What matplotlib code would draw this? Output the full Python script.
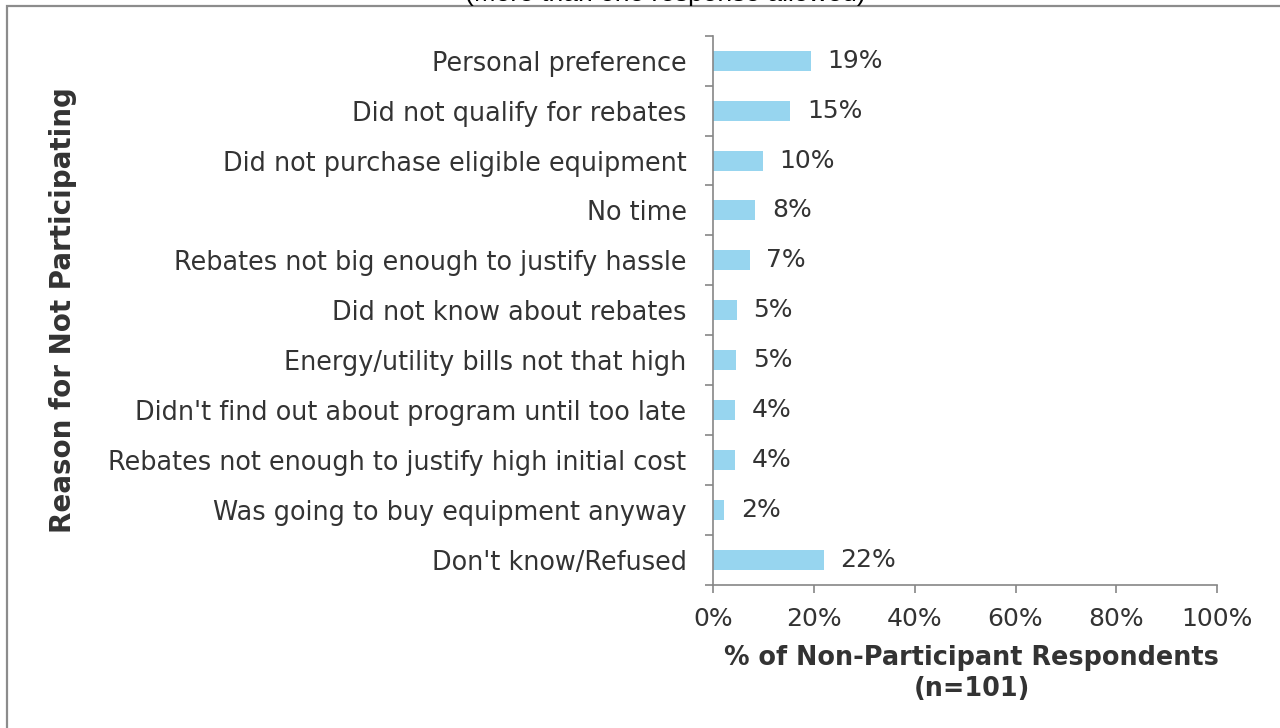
import matplotlib
matplotlib.use('Agg')
import matplotlib.pyplot as plt
from matplotlib.patches import Rectangle
from matplotlib.ticker import FixedLocator, PercentFormatter
import numpy as np

reasons = [
    'Personal preference',
    'Did not qualify for rebates',
    'Did not purchase eligible equipment',
    'No time',
    'Rebates not big enough to justify hassle',
    'Did not know about rebates',
    'Energy/utility bills not that high',
    "Didn't find out about program until too late",
    'Rebates not enough to justify high initial cost',
    'Was going to buy equipment anyway',
    "Don't know/Refused",
]
percents = [19.4, 15.3, 9.9, 8.4, 7.3, 4.7, 4.6, 4.4, 4.4, 2.2, 22.0]
x_ticks = [0, 20, 40, 60, 80, 100]

text_color = '#333333'
axis_color = '#868686'
bar_color = '#97D5EF'

plt.rcParams['font.family'] = 'DejaVu Sans'

fig = plt.figure(figsize=(12.8, 7.28), dpi=100)
ax = fig.add_axes([0.557, 0.1964, 0.394, 0.7546])

y = np.arange(len(reasons))
ax.barh(y, percents, height=0.4, color=bar_color)

for i in range(len(percents)):
    ax.annotate(f'{percents[i]:.0f}%', (percents[i], y[i]), xytext=(12, 0),
                textcoords='offset points', va='center', ha='left',
                fontsize=18, color=text_color)

ax.set_xlim(0, 100)
ax.set_ylim(len(reasons) - 0.5, -0.5)

ax.set_yticks(y)
ax.set_yticklabels(reasons)
ax.yaxis.set_minor_locator(FixedLocator(np.arange(len(reasons) + 1) - 0.5))
ax.tick_params(axis='y', which='major', length=0, pad=19, labelsize=18.4, labelcolor=text_color)
ax.tick_params(axis='y', which='minor', length=6, width=1.2, color=axis_color)

ax.set_xticks(x_ticks)
ax.xaxis.set_major_formatter(PercentFormatter(decimals=0))
ax.tick_params(axis='x', length=6, width=1.2, color=axis_color, pad=10,
               labelsize=18, labelcolor=text_color)

for side in ['top', 'right']:
    ax.spines[side].set_visible(False)
for side in ['left', 'bottom']:
    ax.spines[side].set_color(axis_color)
    ax.spines[side].set_linewidth(1.2)

ax.set_xlabel('% of Non-Participant Respondents\n(n=101)', fontsize=18.4,
              fontweight='bold', color=text_color, linespacing=1.25)
ax.xaxis.set_label_coords(0.513, -0.11)
ax.xaxis.label.set_va('top')
fig.text(63 / 1280, 0.5736, 'Reason for Not Participating', rotation=90,
         ha='center', va='center', fontsize=20, fontweight='bold', color=text_color)

# subtitle sits above the outer frame
fig.text(665 / 1280, 1 - 6.5 / 728, '(More than one response allowed)',
         ha='center', va='bottom', fontsize=19, family='Liberation Sans', color='black')
fig.patches.append(Rectangle((7 / 1280, -0.1), 1.1, 1.1 - 6.5 / 728, transform=fig.transFigure,
                             fill=False, edgecolor='#8c8c8c', linewidth=1.6, clip_on=False))

fig.savefig('out.png', dpi=100)
